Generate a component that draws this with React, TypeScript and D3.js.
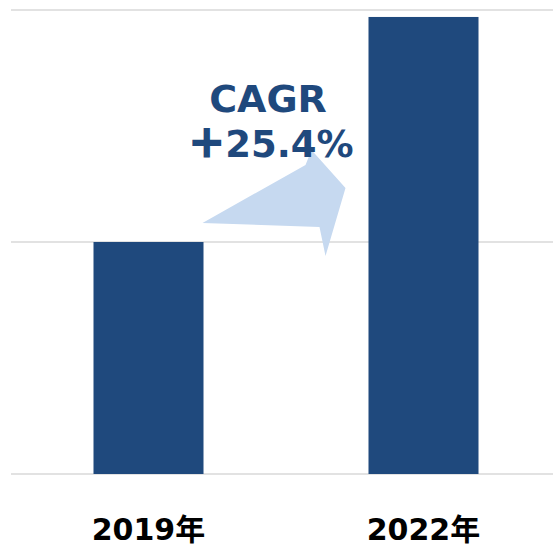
import * as d3 from "d3";
import { useEffect, useRef } from "react";

const years = ["2019年", "2022年"];
const values = [1.0, 1.97];
const gridTicks = [0, 1, 2];
const cagrTitle = "CAGR";
const cagrSign = "＋";
const cagrValue = "25.4%";

const W = 553;
const H = 547;

export default function App() {
  const ref = useRef<SVGSVGElement>(null);

  useEffect(() => {
    if (!ref.current) return;
    const svg = d3.select(ref.current);
    svg.selectAll("*").remove();

    const x = d3
      .scaleBand<string>()
      .domain(years)
      .range([11, 561])
      .paddingInner(0.6)
      .paddingOuter(0.3);

    const y = d3.scaleLinear().domain([0, 2]).range([474, 10]);

    // gridlines
    svg
      .append("g")
      .selectAll("line")
      .data(gridTicks)
      .enter()
      .append("line")
      .attr("x1", 11)
      .attr("x2", W)
      .attr("y1", (d) => y(d))
      .attr("y2", (d) => y(d))
      .attr("stroke", "#d9d9d9")
      .attr("stroke-width", 1.5);

    // bars
    svg
      .append("g")
      .selectAll("rect")
      .data(values)
      .enter()
      .append("rect")
      .attr("x", (d, i) => x(years[i])!)
      .attr("y", (d) => y(d))
      .attr("width", x.bandwidth())
      .attr("height", (d) => y(0) - y(d))
      .attr("fill", "#1f497d");

    // growth arrow, anchored to the first bar's top and second bar's left edge
    const x0 = x(years[0])! + x.bandwidth();
    const x1 = x(years[1])!;
    const yb = y(values[0]);
    const arrow = [
      [x0 - 1, yb - 19],
      [x1 - 63, yb - 77],
      [x1 - 57, yb - 92],
      [x1 - 23, yb - 54],
      [x1 - 43, yb + 14],
      [x1 - 49, yb - 15],
    ];
    svg
      .append("polygon")
      .attr("points", arrow.map((p) => p.join(",")).join(" "))
      .attr("fill", "#c6d9f0");

    const font = "'DejaVu Sans', 'Noto Sans CJK JP', sans-serif";

    // CAGR label
    svg
      .append("text")
      .attr("x", 268)
      .attr("y", 112)
      .attr("text-anchor", "middle")
      .attr("font-family", font)
      .attr("font-weight", "bold")
      .attr("font-size", 38)
      .attr("fill", "#1f497d")
      .text(cagrTitle);

    const rate = svg
      .append("text")
      .attr("x", 271)
      .attr("y", 157)
      .attr("text-anchor", "middle")
      .attr("font-family", font)
      .attr("font-weight", "bold")
      .attr("font-size", 37)
      .attr("fill", "#1f497d");
    // the full-width plus comes out thin, so thicken it with a stroke
    rate
      .append("tspan")
      .attr("stroke", "#1f497d")
      .attr("stroke-width", 2.5)
      .text(cagrSign);
    rate.append("tspan").text(cagrValue);

    // category labels
    svg
      .append("g")
      .selectAll("text")
      .data(years)
      .enter()
      .append("text")
      .attr("x", (d) => x(d)! + x.bandwidth() / 2)
      .attr("y", 540)
      .attr("text-anchor", "middle")
      .attr("font-family", font)
      .attr("font-weight", "bold")
      .attr("font-size", 30)
      .attr("fill", "#000000")
      .text((d) => d);
  }, []);

  return (
    <svg
      ref={ref}
      width={W}
      height={H}
      style={{ position: "absolute", left: 0, top: 0, background: "#fff" }}
    />
  );
}
